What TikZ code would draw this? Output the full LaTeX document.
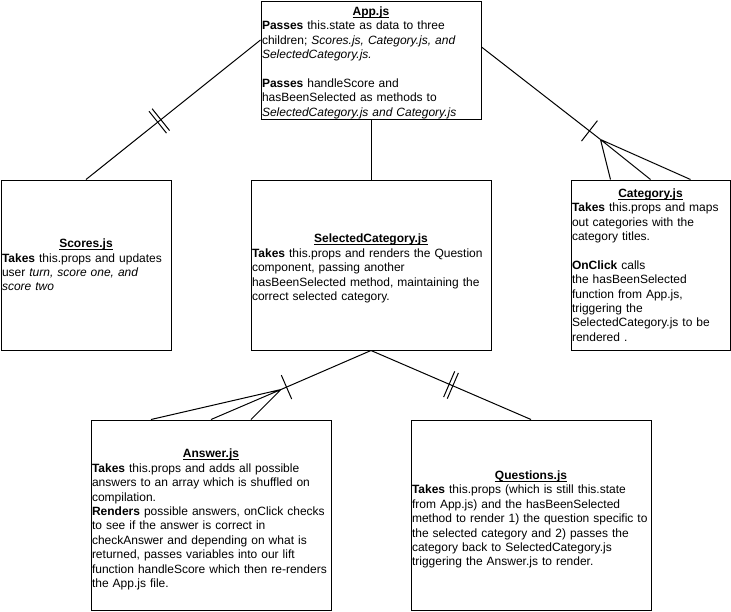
\documentclass[tikz,border=0pt]{standalone}
\usepackage{fontspec}
\setmainfont{Liberation Sans}
\usetikzlibrary{calc,decorations.markings}
\newcommand{\comptitle}[2][0pt]{\makebox[\linewidth]{\rule{0pt}{\dimexpr 8.7pt+#1\relax}\setbox0\hbox{\textbf{#2}}\rlap{\rule[-2pt]{\wd0}{0.7pt}}\box0}}

\begin{document}
\begin{tikzpicture}[x=1pt,y=-1pt,line width=1pt,
  comp/.style={draw,inner xsep=1pt,inner ysep=0pt,align=left,font=\fontsize{12}{14.4}\selectfont},
  onebar/.style={postaction={decorate,decoration={markings,mark=at position #1 with {\draw (0,-13pt)--(0,13pt);}}}},
  twobar/.style={postaction={decorate,decoration={markings,mark=at position #1 with {\draw (-2pt,-14pt)--(-2pt,14pt) (2pt,-14pt)--(2pt,14pt);}}}}]
  \useasboundingbox (0,0) rectangle (731,611);
  \node[comp,text width=218pt,minimum height=118pt] (app) at (371,60) {\comptitle[5pt]{App.js}\\
    \textbf{Passes} this.state as data to three\\
    children; \textit{Scores.js, Category.js, and}\\
    \textit{SelectedCategory.js.}\\[14.4pt]
    \textbf{Passes} handleScore and\\
    hasBeenSelected as methods to\\
    \textit{SelectedCategory.js and Category.js}};
  \node[comp,text width=168pt,minimum height=170pt] (scores) at (86,265) {\comptitle{Scores.js}\\
    \textbf{Takes} this.props and updates\\
    user \textit{turn, score one, and}\\
    \textit{score two}};
  \node[comp,text width=238pt,minimum height=170pt] (selcat) at (371,265) {\comptitle[7pt]{SelectedCategory.js}\\
    \textbf{Takes} this.props and renders the Question\\
    component, passing another\\
    hasBeenSelected method, maintaining the\\
    correct selected category.};
  \node[comp,text width=157pt,minimum height=170pt] (cat) at (650.5,265) {\comptitle{Category.js}\\
    \textbf{Takes} this.props and maps\\
    out categories with the\\
    category titles.\\[14.4pt]
    \textbf{OnClick} calls\\
    the hasBeenSelected\\
    function from App.js,\\
    triggering the\\
    SelectedCategory.js to be\\
    rendered .};
  \node[comp,text width=238pt,minimum height=190pt] (answer) at (211,515) {\comptitle[9pt]{Answer.js}\\
    \textbf{Takes} this.props and adds all possible\\
    answers to an array which is shuffled on\\
    compilation.\\
    \textbf{Renders} possible answers, onClick checks\\
    to see if the answer is correct in\\
    checkAnswer and depending on what is\\
    returned, passes variables into our lift\\
    \mbox{function handleScore which then re-renders}\\
    the App.js file.};
  \node[comp,text width=238pt,minimum height=190pt] (quest) at (531,515) {\comptitle[9pt]{Questions.js}\\
    \textbf{Takes} this.props (which is still this.state\\
    from App.js) and the hasBeenSelected\\
    \mbox{method to render 1) the question specific to}\\
    the selected category and 2) passes the\\
    category back to SelectedCategory.js\\
    triggering the Answer.js to render.};
  \coordinate (catfork) at ($(cat.north)+(-50,-40)$);
  \coordinate (ansfork) at ($(answer.north)+(70,-30)$);
  \draw[twobar=0.42] (scores.north) -- ($(app.west)+(0,-20)$);
  \draw (app.south) -- (selcat.north);
  \draw[onebar=-14pt] ($(app.east)+(0,-13)$) -- (catfork);
  \draw (catfork) -- ($(cat.north)+(-40,0)$) (catfork) -- (cat.north) (catfork) -- ($(cat.north)+(40,0)$);
  \draw[onebar=-6pt] (selcat.south) -- (ansfork);
  \draw (ansfork) -- ($(answer.north)+(-60,0)$) (ansfork) -- (answer.north) (ansfork) -- ($(answer.north)+(40,0)$);
  \draw[twobar=0.5] (selcat.south) -- (quest.north);
\end{tikzpicture}
\end{document}
